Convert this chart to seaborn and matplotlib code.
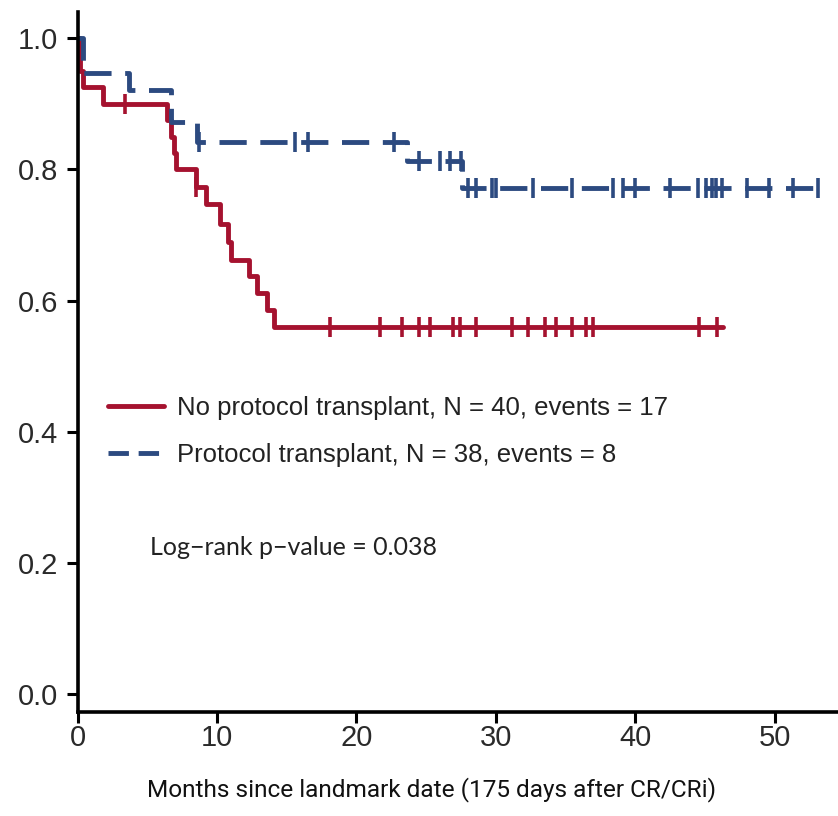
import numpy as np
import pandas as pd
from matplotlib import pyplot as plt
from matplotlib import font_manager
from matplotlib.lines import Line2D
import seaborn as sns

# ---- data ----
# No protocol transplant (N = 40, events = 17)
red_times = [0, 0.15, 0.4, 1.8, 6.4, 6.7, 6.9, 7.1, 8.5, 9.2, 10.2, 10.8, 11.0, 12.3, 12.9, 13.6, 14.1]
red_surv = [1.0, 0.95, 0.925, 0.90, 0.875, 0.85, 0.825, 0.80, 0.773, 0.747, 0.717, 0.69, 0.662, 0.638, 0.612, 0.586, 0.56]
red_end = 46.3
red_censor = [3.4, 8.5, 18.1, 21.7, 23.3, 24.5, 25.25, 26.9, 27.4, 28.6, 31.2, 32.3,
              33.5, 34.3, 35.5, 36.5, 37.0, 44.6, 45.9]

# Protocol transplant (N = 38, events = 8)
blue_times = [0, 0.4, 3.7, 6.7, 8.6, 23.6, 27.6]
blue_surv = [1.0, 0.947, 0.921, 0.872, 0.842, 0.812, 0.771]
blue_end = 53.7
blue_censor = [8.75, 15.6, 16.5, 22.7, 24.5, 26.0, 26.7, 27.5, 28.0, 28.6, 29.7, 30.0,
               32.7, 35.5, 38.4, 39.1, 40.0, 42.5, 44.5, 45.1, 45.5, 45.8, 46.2,
               48.0, 49.6, 51.3, 53.1]

labels = ['No protocol transplant, N = 40, events = 17',
          'Protocol transplant, N = 38, events = 8']
pvalue_text = 'Log\u2212rank p\u2212value = 0.038'

RED = '#A5122F'
BLUE = '#2C4A80'


def step_frame(times, surv, end):
    return pd.DataFrame({'t': list(times) + [end], 's': list(surv) + [surv[-1]]})


def censor_frame(times, surv, cens):
    idx = np.searchsorted(times, cens, side='right') - 1
    return pd.DataFrame({'t': cens, 's': np.array(surv)[idx]})


sns.set_style('ticks')
plt.rcParams['font.family'] = ['Liberation Sans', 'DejaVu Sans']

# narrow face for the x label if there is one
installed = {f.name for f in font_manager.fontManager.ttflist}
narrow = 'Liberation Sans Narrow' if 'Liberation Sans Narrow' in installed else 'Roboto'
xlabel_size = 21 if narrow == 'Liberation Sans Narrow' else 17.6

fig = plt.figure(figsize=(8.38, 8.16), dpi=100)
ax = fig.add_axes([0.0925, 0.1275, 0.9075, 0.8575])

red_df = step_frame(red_times, red_surv, red_end)
blue_df = step_frame(blue_times, blue_surv, blue_end)

LW = 3.5
sns.lineplot(data=red_df, x='t', y='s', drawstyle='steps-post', color=RED,
             linewidth=LW, ax=ax, sort=False)
sns.lineplot(data=blue_df, x='t', y='s', drawstyle='steps-post', color=BLUE,
             linewidth=LW, linestyle=(0, (5.6, 2.8)), ax=ax, sort=False)

sns.scatterplot(data=censor_frame(red_times, red_surv, red_censor), x='t', y='s',
                marker='|', s=190, linewidth=2.6, color=RED, ax=ax, zorder=3)
sns.scatterplot(data=censor_frame(blue_times, blue_surv, blue_censor), x='t', y='s',
                marker='|', s=190, linewidth=2.6, color=BLUE, ax=ax, zorder=3)

ax.set_xlim(0, 54.55)
ax.set_ylim(-0.0274, 1.0396)
ax.set_xticks([0, 10, 20, 30, 40, 50])
ax.set_yticks([0.0, 0.2, 0.4, 0.6, 0.8, 1.0])
ax.set_yticklabels(['0.0', '0.2', '0.4', '0.6', '0.8', '1.0'])
ax.tick_params(axis='both', length=8, width=2.2, labelsize=21, colors='black',
               labelcolor='#2a2a2a')
ax.tick_params(axis='x', pad=1)
ax.tick_params(axis='y', pad=6)
for side in ['left', 'bottom']:
    ax.spines[side].set_linewidth(2.6)
    ax.spines[side].set_color('black')
sns.despine(ax=ax)

ax.set_ylabel('')
ax.set_xlabel('Months since landmark date (175 days after CR/CRi)',
              fontsize=xlabel_size, family=narrow, color='#111111')
ax.xaxis.set_label_coords(0.466, -0.093)

handles = [Line2D([], [], color=RED, linewidth=LW),
           Line2D([], [], color=BLUE, linewidth=LW, linestyle=(0, (4.2, 2.0)))]
ax.legend(handles, labels, loc='upper left', bbox_to_anchor=(0.04, 0.452),
          frameon=False, fontsize=18.5, handlelength=2.2, handletextpad=0.5,
          borderpad=0, borderaxespad=0, labelspacing=0.9, labelcolor='#222222')

ax.text(0.095, 0.235, pvalue_text, transform=ax.transAxes, fontsize=18,
        family=['Lato', 'DejaVu Sans'], color='#222222', va='center')

fig.savefig('out.png', dpi=100)
